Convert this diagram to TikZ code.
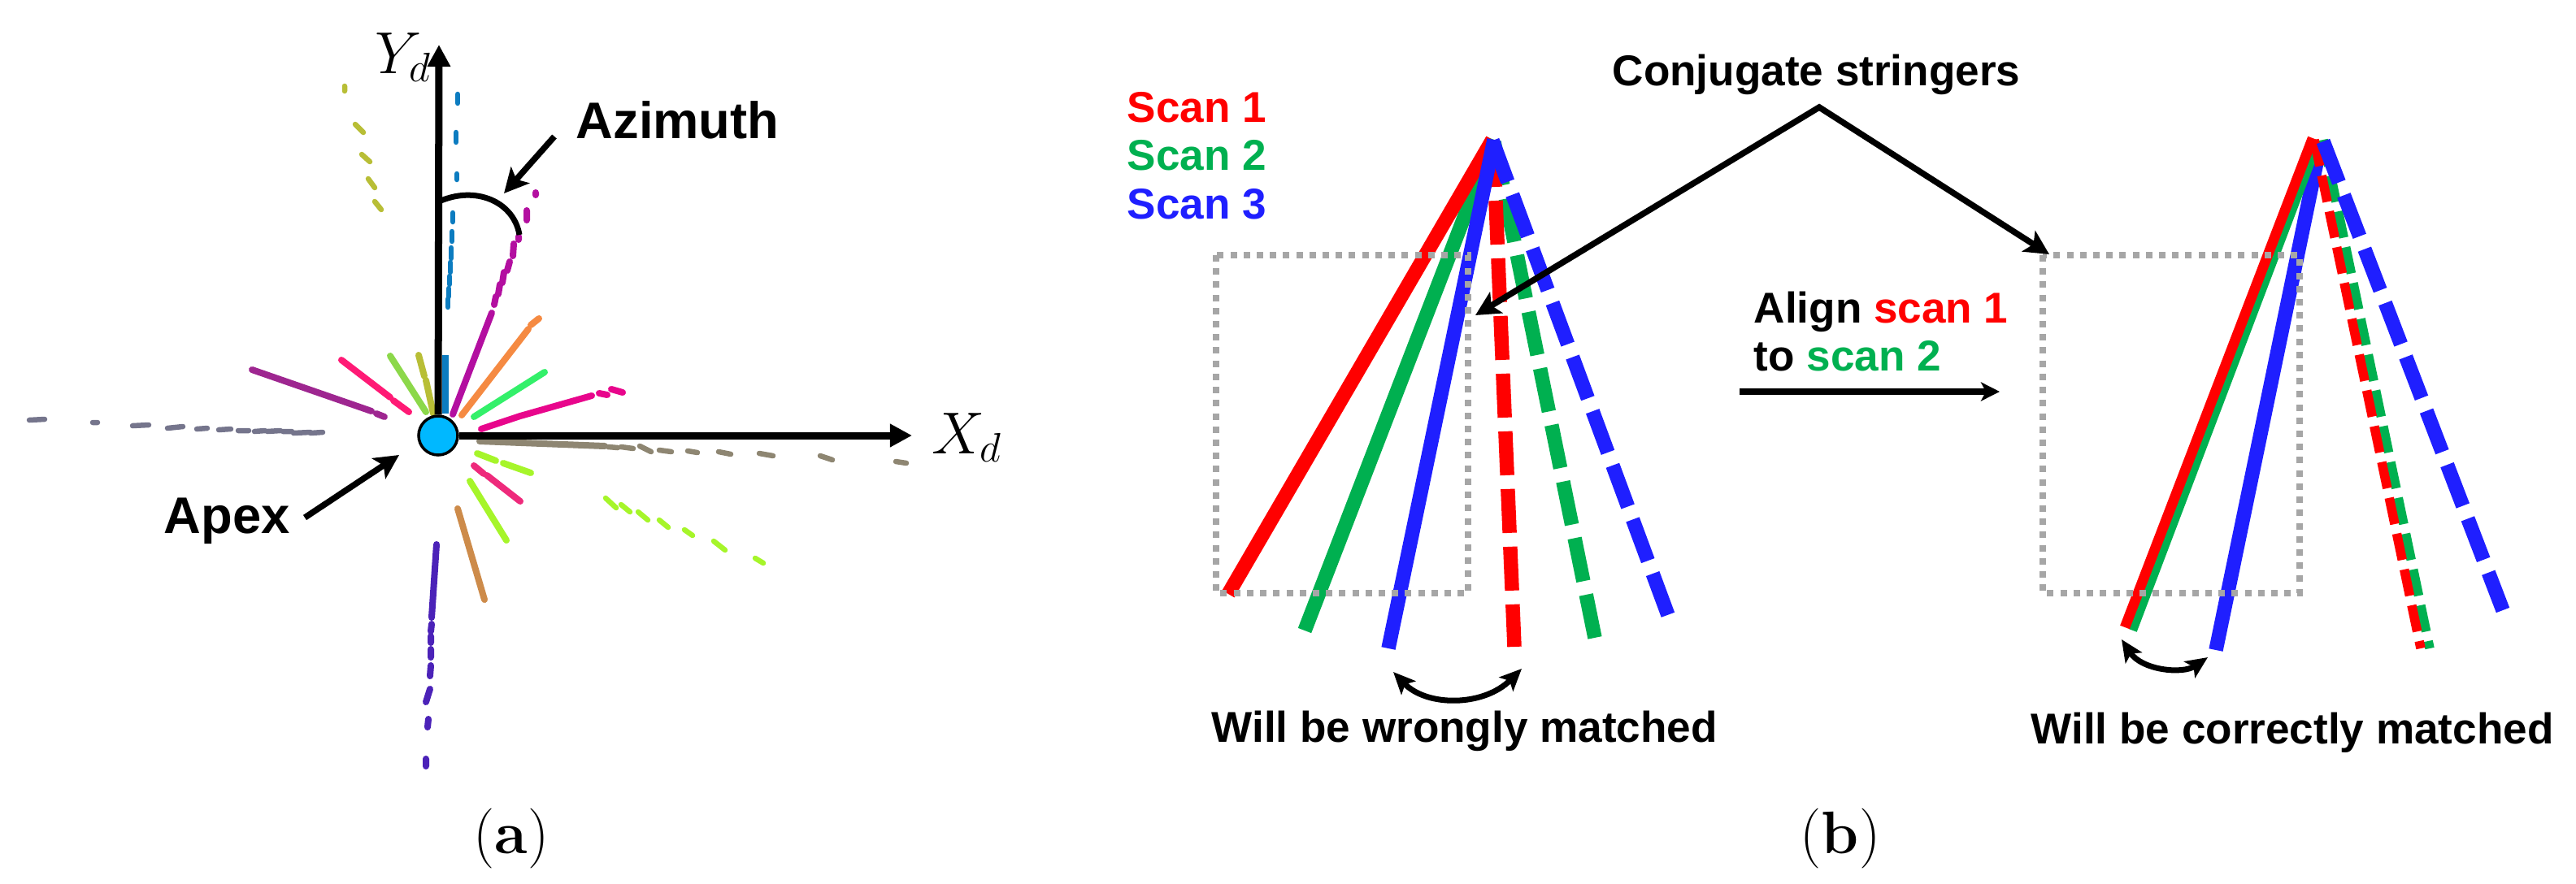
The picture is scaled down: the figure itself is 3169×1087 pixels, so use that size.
\documentclass[tikz,border=0pt]{standalone}
\usepackage{fontspec}
\usetikzlibrary{arrows.meta}
\newfontfamily\labelfont{Liberation Sans}
\definecolor{scanred}{HTML}{FF0000}
\definecolor{scangreen}{HTML}{00B050}
\definecolor{scanblue}{HTML}{1F1FFF}
\definecolor{boxgray}{HTML}{A6A6A6}
\definecolor{apexfill}{HTML}{00B8FF}
\definecolor{rayblue}{HTML}{0C7CC0}
\definecolor{rayolive}{HTML}{B8BE36}
\definecolor{raymagenta}{HTML}{B30FA0}
\definecolor{rayorange}{HTML}{F58A42}
\definecolor{raygreen}{HTML}{33F06A}
\definecolor{raypink}{HTML}{E8068C}
\definecolor{raytaupe}{HTML}{8E8672}
\definecolor{raylime}{HTML}{A6F52A}
\definecolor{rayrose}{HTML}{EE2A7B}
\definecolor{raybrown}{HTML}{CD8B4A}
\definecolor{rayindigo}{HTML}{4B22B8}
\definecolor{rayslate}{HTML}{75758C}
\definecolor{rayplum}{HTML}{9E2690}
\definecolor{rayhot}{HTML}{FF1A75}
\definecolor{rayleaf}{HTML}{8CD84A}
\tikzset{
  ray/.style={line width=.08cm,line cap=round},
  farray/.style={line width=.065cm,line cap=round},
  solidscan/.style={line width=.175cm},
  dashscan/.style={line width=.175cm,dash pattern=on 5.4mm off 1.7mm},
  thinscan/.style={line width=.115cm,dash pattern=on 3.3mm off 1.2mm},
  dotbox/.style={boxgray,line width=.075cm,dash pattern=on .8mm off .82mm},
  axisline/.style={line width=.09cm,-{Triangle[length=.27cm,width=.27cm]}},
  callout/.style={line width=.075cm,-{Stealth[length=.3cm,width=.3cm,inset=.07cm]}},
  bigtext/.style={anchor=base west,inner sep=0pt,font=\labelfont\bfseries\fontsize{18}{22}\selectfont},
  smalltext/.style={anchor=base west,inner sep=0pt,font=\labelfont\bfseries\fontsize{15.1}{18}\selectfont},
  mathtext/.style={anchor=base west,inner sep=0pt,font=\fontsize{20}{24}\selectfont},
  panellabel/.style={anchor=base,inner sep=0pt,font=\fontsize{21}{25}\selectfont},
}
\begin{document}
\begin{tikzpicture}[x=.01cm,y=-.01cm]
\useasboundingbox (0,0) rectangle (3169,1087);

% Rays around the apex
\draw[ray,rayblue,line cap=butt] (548,509) -- (548,437);
\draw[farray,rayblue] (551,378)--(551,368) (552,365)--(552,355) (553,350)--(553,340) (554,335)--(554,323) (555,318)--(555,305) (556,297)--(556,285) (557,273)--(557,262) (562,221)--(562,214) (561,175)--(561,163) (563,127)--(563,116);
\draw[ray,raymagenta] (557,510) -- (605,385) (608,375)--(610,365) (613,362)--(615,350) (618,348)--(620,335) (624,333)--(627,322) (631,315)--(632,300) (638,295)--(638,291) (648,259)--(648,271) (659,237)--(659,240);
\draw[ray,rayorange] (568,511) -- (650,405) (653,400)--(663,392);
\draw[ray,raygreen] (583,513) -- (670,458);
\draw[ray,raypink] (592,528) -- (640,512) -- (728,487) (737,484)--(747,486) (752,479)--(766,483);
\draw[ray,raytaupe] (590,543) -- (744,549);
\draw[farray,raytaupe] (748,550)--(760,551) (764,550)--(779,552) (787,549)--(801,556) (811,554)--(826,556) (846,555)--(858,557) (884,556)--(899,559) (934,558)--(951,561) (1009,561)--(1024,566) (1102,568)--(1115,570);
\draw[ray,raylime] (587,558) -- (610,567) (619,570) -- (653,582);
\draw[farray,raylime] (745,613)--(758,625) (764,621)--(775,630) (785,630)--(797,640) (811,640)--(822,649) (842,652)--(852,659) (878,666)--(892,677) (929,687)--(939,693);
\draw[ray,rayrose] (583,573) -- (595,583) (599,585) -- (640,617);
\draw[ray,raylime] (578,592) -- (623,665);
\draw[ray,raybrown] (563,626) -- (596,738);
\draw[ray,rayindigo] (537,670) -- (531,760) (531,768)--(530,777) (530,783)--(530,791) (530,799)--(530,809) (530,819)--(529,832) (529,848)--(524,864) (527,885)--(526,895) (524,934)--(524,943);
\draw[farray,rayslate] (36,517)--(55,516) (114,520)--(120,520) (163,524)--(183,523) (206,527)--(225,525) (242,528)--(255,527) (269,529)--(284,528) (293,530)--(306,530) (313,531)--(326,530) (329,531)--(345,530) (348,531)--(359,531) (361,533)--(382,532) (382,533)--(397,532);
\draw[ray,rayplum] (310,455) -- (457,506) (463,509)--(473,513);
\draw[ray,rayhot] (420,443) -- (480,489) (484,493)--(503,507);
\draw[ray,rayleaf] (480,438) -- (524,507);
\draw[ray,rayolive] (515,437) -- (522,463) (524,468) -- (533,509);
\draw[farray,rayolive] (424,106)--(424,112) (437,153)--(447,163) (445,190)--(455,199) (453,220)--(461,231) (461,248)--(469,258);

% Axes and apex
\node[circle,draw=black,fill=apexfill,line width=.035cm,minimum size=.48cm,inner sep=0pt] (apex) at (539,536) {};
\coordinate (ytip) at (540,55);
\coordinate (xtip) at (1122,536);
\draw[axisline] (apex) -- (ytip);
\draw[axisline] (apex) -- (xtip);
\node[mathtext] (ylabel) at (461,90) {$Y_d$};
\node[mathtext] (xlabel) at (1146,558) {$X_d$};

% Azimuth arc
\coordinate (arcstart) at (540,248);
\coordinate (arcend) at (639,289);
\draw[line width=.07cm] (arcstart) .. controls (585,228) and (632,248) .. (arcend);
\node[bigtext] (azimuth) at (708,170) {Azimuth};
\coordinate (azfrom) at (682,168);
\coordinate (azto) at (620,238);
\draw[callout] (azfrom) -- (azto);

% Apex callout
\node[bigtext] (apextext) at (201,656) {Apex};
\coordinate (apfrom) at (375,637);
\coordinate (apto) at (491,560);
\draw[callout] (apfrom) -- (apto);

% Scan legend
\foreach \n/\col/\ypos in {1/scanred/150,2/scangreen/209,3/scanblue/269}
  \node[smalltext,text=\col] (scan\n) at (1386,\ypos) {Scan \n};

% Left fan
\draw[solidscan,scangreen] (1838,172) -- (1605,776);
\draw[dashscan,scangreen] (1838,175) -- (1962,785);
\draw[solidscan,scanred] (1836,172) -- (1511,731);
\draw[dashscan,scanred] (1837,176) -- (1863,796);
\draw[solidscan,scanblue] (1838,172) -- (1708,798);
\draw[dashscan,scanblue] (1836,173) -- (2052,757);
\draw[dotbox] (1496,314) rectangle (1806,730);

% Right fan
\draw[solidscan,scanblue] (2853,185) -- (2726,800);
\draw[line width=.1cm,scangreen] (2852,175) -- (2624,776);
\draw[line width=.125cm,scanred] (2845,170) -- (2614,772);
\draw[thinscan,scangreen] (2858,172) -- (2989,798);
\draw[thinscan,scanred] (2847,172) -- (2978,798);
\draw[dashscan,scanblue] (2858,174) -- (3079,751);
\draw[dotbox] (2513,314) rectangle (2829,730);

% Conjugate stringers
\node[smalltext] (conjugate) at (1983,105) {Conjugate stringers};
\coordinate (conjtop) at (2238,132);
\coordinate (conjleft) at (1815,388);
\coordinate (conjright) at (2521,313);
\draw[callout,{Stealth[length=.3cm,width=.3cm,inset=.07cm]}-{Stealth[length=.3cm,width=.3cm,inset=.07cm]}] (conjleft) -- (conjtop) -- (conjright);

% Alignment step
\node[smalltext] (aligntop) at (2157,397) {Align \textcolor{scanred}{scan 1}};
\node[smalltext] (alignbot) at (2157,456) {to \textcolor{scangreen}{scan 2}};
\coordinate (alfrom) at (2140,482);
\coordinate (alto) at (2460,482);
\draw[line width=.075cm,-{Stealth[length=.23cm,width=.23cm,inset=.06cm]}] (alfrom) -- (alto);

% Match arrows
\coordinate (wrongl) at (1714,827);
\coordinate (wrongr) at (1872,823);
\coordinate (rightl) at (2610,787);
\coordinate (rightr) at (2716,809);
\draw[line width=.07cm,{Stealth[length=.27cm,width=.24cm,inset=.06cm]}-{Stealth[length=.27cm,width=.24cm,inset=.06cm]}] (wrongl) .. controls (1755,870) and (1825,870) .. (wrongr);
\draw[line width=.07cm,{Stealth[length=.27cm,width=.24cm,inset=.06cm]}-{Stealth[length=.27cm,width=.24cm,inset=.06cm]}] (rightl) .. controls (2635,825) and (2685,830) .. (rightr);
\node[smalltext] (wrongtext) at (1490,913) {Will be wrongly matched};
\node[smalltext] (righttext) at (2498,915) {Will be correctly matched};

% Panel labels
\node[panellabel] (panela) at (629,1050) {(\textbf{a})};
\node[panellabel] (panelb) at (2264,1050) {(\textbf{b})};
\end{tikzpicture}
\end{document}
